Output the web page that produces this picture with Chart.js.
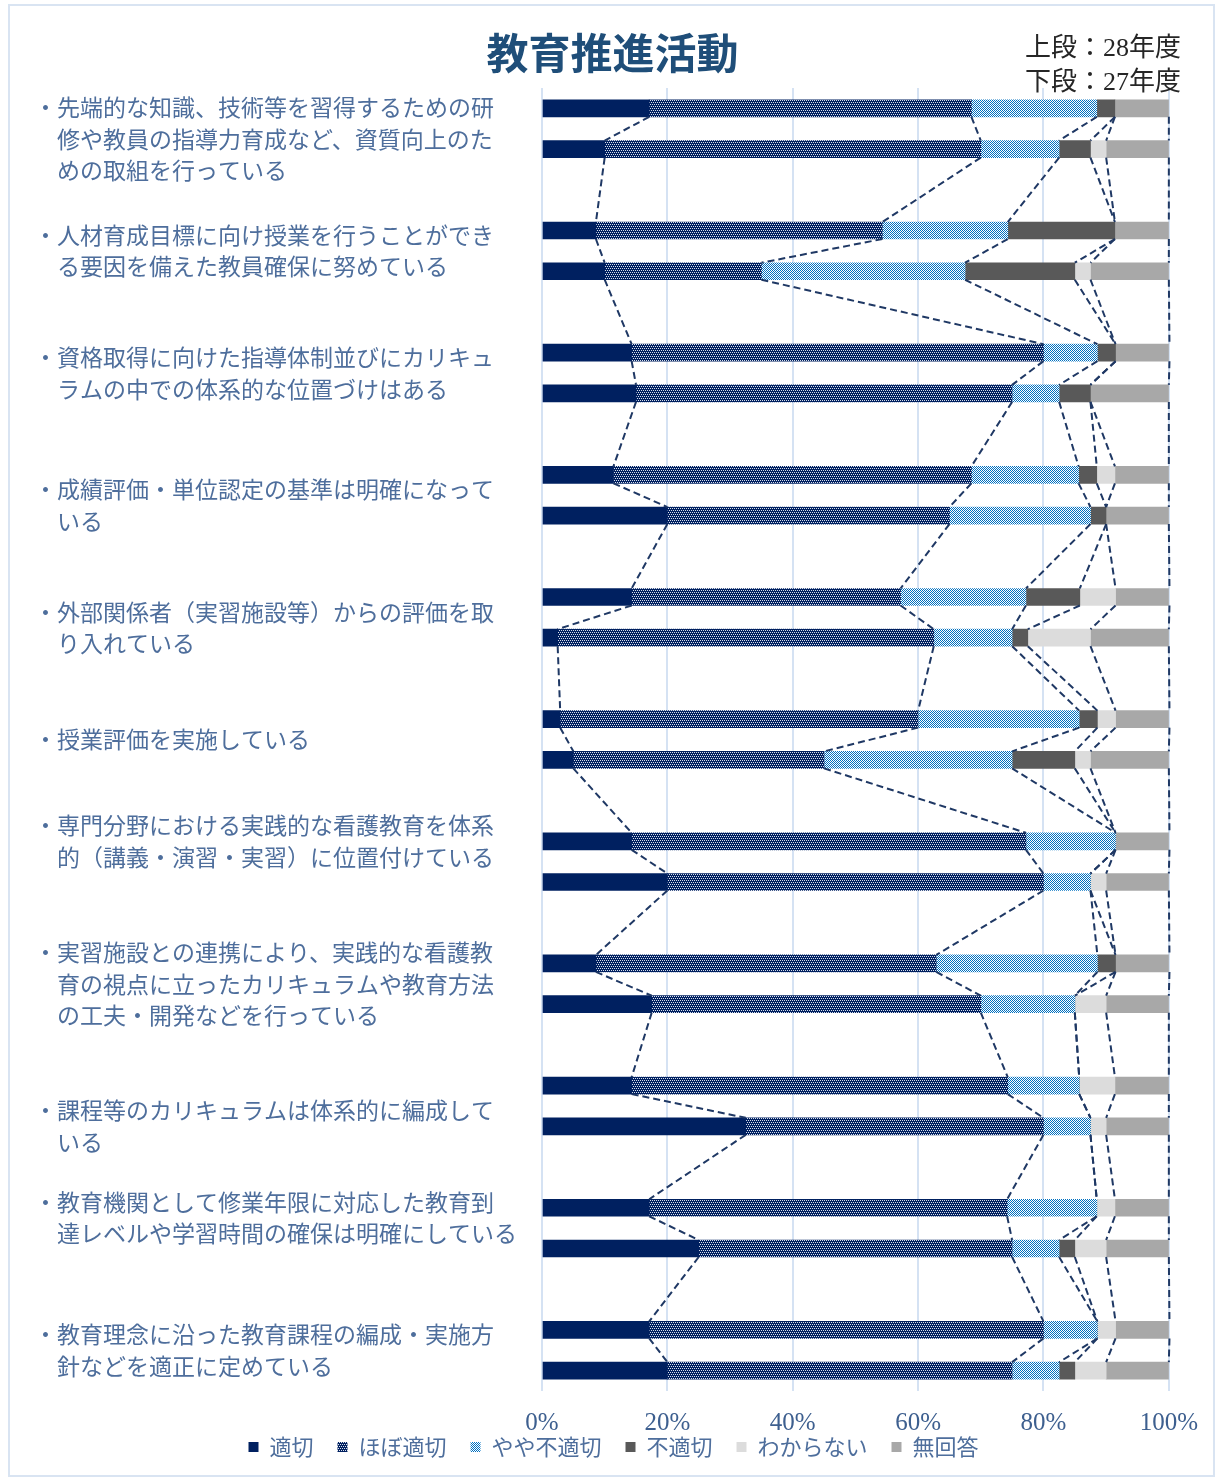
<!DOCTYPE html>
<html lang="ja">
<head>
<meta charset="utf-8">
<title>教育推進活動</title>
<script src="https://cdn.jsdelivr.net/npm/chart.js@4.4.1/dist/chart.umd.min.js"></script>
<style>
  html, body { margin: 0; padding: 0; background: #fff; }
  .frame { position: absolute; left: 8px; top: 4px; width: 1203px; height: 1469px; border: 2px solid #d9e4f2; }
  #chart { position: absolute; left: 0; top: 0; }
</style>
</head>
<body>
<div class="frame"></div>
<canvas id="chart" width="1215" height="1479"></canvas>
<script>
// 設問（上から順、改行は元の図のまま）
const questions = [
  ['・先端的な知識、技術等を習得するための研', '　修や教員の指導力育成など、資質向上のた', '　めの取組を行っている'],
  ['・人材育成目標に向け授業を行うことができ', '　る要因を備えた教員確保に努めている'],
  ['・資格取得に向けた指導体制並びにカリキュ', '　ラムの中での体系的な位置づけはある'],
  ['・成績評価・単位認定の基準は明確になって', '　いる'],
  ['・外部関係者（実習施設等）からの評価を取', '　り入れている'],
  ['・授業評価を実施している'],
  ['・専門分野における実践的な看護教育を体系', '　的（講義・演習・実習）に位置付けている'],
  ['・実習施設との連携により、実践的な看護教', '　育の視点に立ったカリキュラムや教育方法', '　の工夫・開発などを行っている'],
  ['・課程等のカリキュラムは体系的に編成して', '　いる'],
  ['・教育機関として修業年限に対応した教育到', '　達レベルや学習時間の確保は明確にしている'],
  ['・教育理念に沿った教育課程の編成・実施方', '　針などを適正に定めている']
];

const seriesNames = ['適切', 'ほぼ適切', 'やや不適切', '不適切', 'わからない', '無回答'];

// 上段：28年度（%）
const tekisetsu28     = [17.1,  8.6, 14.3, 11.4, 14.3,  2.9, 14.3,  8.6, 14.3, 17.1, 17.1];
const hoboTekisetsu28 = [51.4, 45.7, 65.7, 57.1, 42.9, 57.1, 62.9, 54.3, 60.0, 57.1, 62.9];
const yayaFute28      = [20.0, 20.0,  8.6, 17.1, 20.0, 25.7, 14.3, 25.7, 11.4, 14.3,  8.6];
const futekisetsu28   = [ 2.9, 17.1,  2.9,  2.9,  8.6,  2.9,  0.0,  2.9,  0.0,  0.0,  0.0];
const wakaranai28     = [ 0.0,  0.0,  0.0,  2.9,  5.7,  2.9,  0.0,  0.0,  5.7,  2.9,  2.9];
const mukaitou28      = [ 8.6,  8.6,  8.6,  8.6,  8.6,  8.6,  8.6,  8.6,  8.6,  8.6,  8.6];

// 下段：27年度（%）
const tekisetsu27     = [10.0, 10.0, 15.0, 20.0,  2.5,  5.0, 20.0, 17.5, 32.5, 25.0, 20.0];
const hoboTekisetsu27 = [60.0, 25.0, 60.0, 45.0, 60.0, 40.0, 60.0, 52.5, 47.5, 50.0, 55.0];
const yayaFute27      = [12.5, 32.5,  7.5, 22.5, 12.5, 30.0,  7.5, 15.0,  7.5,  7.5,  7.5];
const futekisetsu27   = [ 5.0, 17.5,  5.0,  2.5,  2.5, 10.0,  0.0,  0.0,  0.0,  2.5,  2.5];
const wakaranai27     = [ 2.5,  2.5,  0.0,  0.0, 10.0,  2.5,  2.5,  5.0,  2.5,  5.0,  5.0];
const mukaitou27      = [10.0, 12.5, 12.5, 10.0, 12.5, 12.5, 10.0, 10.0, 10.0, 10.0, 10.0];

const xTickLabels = ['0%', '20%', '40%', '60%', '80%', '100%'];
const noteLines = ['上段：28年度', '下段：27年度'];

const series28 = [tekisetsu28, hoboTekisetsu28, yayaFute28, futekisetsu28, wakaranai28, mukaitou28];
const series27 = [tekisetsu27, hoboTekisetsu27, yayaFute27, futekisetsu27, wakaranai27, mukaitou27];

// レイアウト：設問ラベルを置く補助軸の行（1行 = 1/4 スロット）
const labelRow = [5, 16, 28, 41, 53, 64, 74, 88, 102, 111, 124];

const FONT = '"Noto Sans CJK JP", "Noto Sans", sans-serif';
const TEXT_BLUE = '#4e6e9c';

// 1設問 = 上段・下段・空きの3スロット（最後の空きなし）
const slotLabels = [];
questions.forEach((q, i) => {
  slotLabels.push(i + '-28', i + '-27');
  if (i < questions.length - 1) slotLabels.push(i + '-gap');
});
function slotValues(s) {
  const out = [];
  questions.forEach((q, i) => {
    out.push(series28[s][i], series27[s][i]);
    if (i < questions.length - 1) out.push(null);
  });
  return out;
}

const questionTicks = new Array(32 * 4 + 1).fill('');
labelRow.forEach((r, i) => { questionTicks[r] = questions[i]; });

// ハッチング
function makePattern(size, bg, fg, dots) {
  const c = document.createElement('canvas');
  c.width = size; c.height = size;
  const g = c.getContext('2d');
  g.fillStyle = bg;
  g.fillRect(0, 0, size, size);
  g.fillStyle = fg;
  dots.forEach(([x, y]) => g.fillRect(x, y, 1, 1));
  return g.createPattern(c, 'repeat');
}
const hoboPattern = makePattern(4, '#002060', '#d8dfec', [[0, 0], [2, 0], [1, 2], [3, 2]]);
const yayaPattern = makePattern(2, '#ffffff', '#0070c0', [[0, 0], [1, 1]]);
const colors = ['#002060', hoboPattern, yayaPattern, '#595959', '#dcdcdc', '#a8a8a8'];

// 区分線（破線）
const seriesLines = {
  id: 'seriesLines',
  afterDatasetsDraw(chart) {
    const c = chart.ctx;
    c.save();
    c.strokeStyle = '#1f3864';
    c.lineWidth = 2;
    c.setLineDash([7, 4]);
    chart.data.datasets.forEach((ds, d) => {
      const bars = chart.getDatasetMeta(d).data.filter((el, k) => ds.data[k] !== null);
      c.beginPath();
      for (let k = 0; k < bars.length - 1; k++) {
        const a = bars[k], b = bars[k + 1];
        c.moveTo(a.x, a.y + a.height / 2);
        c.lineTo(b.x, b.y - b.height / 2);
      }
      c.stroke();
    });
    c.restore();
  }
};

// 凡例を目盛ラベルのすぐ下へ、タイトルを少し右へ
const boxNudge = {
  id: 'boxNudge',
  afterLayout(chart) {
    const l = chart.legend;
    l.top -= 25.6; l.bottom -= 25.6;
    l.left += 12; l.right += 12;
    const t = chart.titleBlock;
    t.left += 11; t.right += 11;
  }
};

// 右上の注記
const yearNote = {
  id: 'yearNote',
  afterDraw(chart) {
    const c = chart.ctx;
    c.save();
    c.font = '26px "Liberation Serif", "Noto Sans CJK JP"';
    c.fillStyle = '#262626';
    c.textAlign = 'left';
    c.textBaseline = 'middle';
    noteLines.forEach((t, i) => c.fillText(t, 1025, 49 + i * 34));
    c.restore();
  }
};

const ctx = document.getElementById('chart').getContext('2d');
new Chart(ctx, {
  type: 'bar',
  data: {
    labels: slotLabels,
    datasets: seriesNames.map((name, s) => ({
      label: name,
      data: slotValues(s),
      backgroundColor: colors[s],
      borderWidth: 0,
      barThickness: 17,
      xAxisID: 'x',
      yAxisID: 'y'
    }))
  },
  options: {
    indexAxis: 'y',
    responsive: false,
    animation: false,
    devicePixelRatio: 1,
    layout: { padding: { left: 34, right: 46, top: 0, bottom: -14.6 } },
    plugins: {
      title: {
        display: true,
        text: '教育推進活動',
        color: '#1f4e79',
        font: { family: FONT, size: 42, weight: 'bold', lineHeight: 1.2 },
        padding: { top: 28, bottom: 9.6 }
      },
      legend: {
        position: 'bottom',
        labels: {
          boxWidth: 10,
          boxHeight: 10,
          padding: 24,
          color: TEXT_BLUE,
          font: { family: FONT, size: 22 }
        }
      },
      tooltip: { enabled: false }
    },
    scales: {
      x: {
        stacked: true,
        min: 0,
        max: 100,
        position: 'bottom',
        ticks: {
          stepSize: 20,
          padding: 17,
          color: '#3d5f8f',
          font: { family: '"Liberation Serif", serif', size: 25 },
          callback: (v, i) => xTickLabels[i]
        },
        grid: { color: '#d5e2f3', lineWidth: 2, drawTicks: false },
        border: { display: false },
        afterFit: s => { s.height = 46.6; }
      },
      y: {
        stacked: true,
        display: false
      },
      questions: {
        type: 'category',
        position: 'left',
        labels: questionTicks,
        offset: false,
        grid: { display: false },
        border: { display: false },
        ticks: {
          autoSkip: false,
          crossAlign: 'far',
          padding: 0,
          color: TEXT_BLUE,
          font: { family: FONT, size: 23, lineHeight: 1.37 }
        },
        afterFit: s => { s.width = 508; }
      }
    }
  },
  plugins: [seriesLines, boxNudge, yearNote]
});
</script>
</body>
</html>
